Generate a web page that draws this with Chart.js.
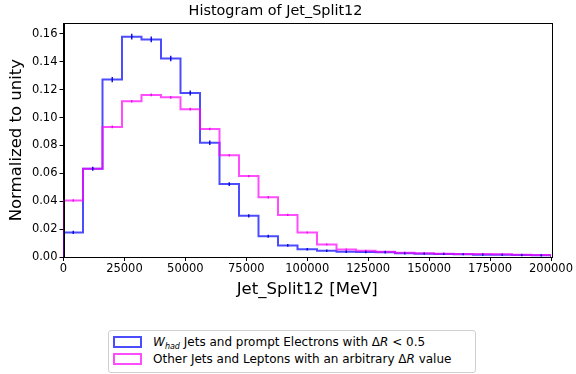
<!DOCTYPE html>
<html>
<head>
<meta charset="utf-8">
<script src="https://cdn.jsdelivr.net/npm/chart.js@4/dist/chart.umd.min.js"></script>
<style>
  html, body { margin: 0; padding: 0; background: #fff; }
  #wrap { position: relative; width: 576px; height: 374px; }
  #legend {
    position: absolute; left: 108px; top: 330px; width: 366px; height: 41px;
    border: 1px solid #d0d0d0; border-radius: 3px; background: #fff;
    font-family: "DejaVu Sans", sans-serif; font-size: 12px; color: #000;
  }
  .row { position: absolute; left: 4px; height: 16px; line-height: 16px; white-space: nowrap; }
  .patch { display: inline-block; width: 25px; height: 8px; vertical-align: middle; margin-right: 11px; margin-top: -2px; }
</style>
</head>
<body>
<div id="wrap">
  <canvas id="histChart" width="576" height="374"></canvas>
  <div id="legend">
    <div class="row" style="top:3px"><span class="patch" style="border:2px solid rgba(0,0,255,0.7)"></span><i>W</i><sub style="font-size:8px"><i>had</i></sub> Jets and prompt Electrons with Δ<i>R</i> &lt; 0.5</div>
    <div class="row" style="top:20px"><span class="patch" style="border:2px solid rgba(255,0,255,0.7)"></span>Other Jets and Leptons with an arbitrary Δ<i>R</i> value</div>
  </div>
</div>
<script>
// bin edges of the histogram (MeV)
const binEdges = [0, 8000, 16000, 24000, 32000, 40000, 48000, 56000, 64000, 72000,
  80000, 88000, 96000, 104000, 112000, 120000, 128000, 136000, 144000, 152000,
  160000, 168000, 176000, 184000, 192000, 200000];

// W_had jets + prompt electrons, dR < 0.5
const whadValues = [0.0176, 0.0633, 0.1272, 0.1580, 0.1560, 0.1424, 0.1176, 0.0819, 0.0523, 0.0295,
  0.0148, 0.0083, 0.0055, 0.0045, 0.0038, 0.0035, 0.0034, 0.0026, 0.0024, 0.0022,
  0.0020, 0.0017, 0.0016, 0.0014, 0.0012];
const whadErrors = [0.0006, 0.0009, 0.0013, 0.0015, 0.0015, 0.0014, 0.0013, 0.0011, 0.0008, 0.0006,
  0.0005, 0.0004, 0.0003, 0.0003, 0.0003, 0.0003, 0.0003, 0.0002, 0.0002, 0.0002,
  0.0002, 0.0002, 0.0002, 0.0002, 0.0002];

// other jets and leptons, arbitrary dR
const otherValues = [0.0405, 0.0633, 0.0933, 0.1117, 0.1162, 0.1145, 0.1060, 0.0918, 0.0729, 0.0580,
  0.0429, 0.0302, 0.0176, 0.0090, 0.0054, 0.0045, 0.0038, 0.0031, 0.0026, 0.0024,
  0.0021, 0.0021, 0.0019, 0.0017, 0.0014];
const otherErrors = [0.0003, 0.0003, 0.0004, 0.0004, 0.0004, 0.0004, 0.0004, 0.0004, 0.0003, 0.0003,
  0.0003, 0.0002, 0.0002, 0.0001, 0.0001, 0.0001, 0.0001, 0.0001, 0.0001, 0.0001,
  0.0001, 0.0001, 0.0001, 0.0001, 0.0001];

const yTicks = [0, 0.02, 0.04, 0.06, 0.08, 0.10, 0.12, 0.14, 0.16];
const xTicks = [0, 25000, 50000, 75000, 100000, 125000, 150000, 175000, 200000];

const FONT = '"DejaVu Sans", sans-serif';

// turn bin contents into step outline points (start and end at zero)
function stepPoints(values) {
  const pts = [{ x: binEdges[0], y: 0 }];
  values.forEach((v, i) => pts.push({ x: binEdges[i], y: v }));
  pts.push({ x: binEdges[binEdges.length - 1], y: values[values.length - 1] });
  pts.push({ x: binEdges[binEdges.length - 1], y: 0 });
  return pts;
}

// small vertical error bars at bin centres + full frame around the axes
const histExtras = {
  id: 'histExtras',
  afterDatasetsDraw(chart) {
    const { ctx, scales: { x, y } } = chart;
    const draw = (values, errors, color) => {
      ctx.save();
      ctx.strokeStyle = color;
      ctx.lineWidth = 1.5;
      values.forEach((v, i) => {
        const cx = x.getPixelForValue((binEdges[i] + binEdges[i + 1]) / 2);
        ctx.beginPath();
        ctx.moveTo(cx, y.getPixelForValue(v - errors[i]) + 0.8);
        ctx.lineTo(cx, y.getPixelForValue(v + errors[i]) - 0.8);
        ctx.stroke();
      });
      ctx.restore();
    };
    draw(otherValues, otherErrors, 'rgba(230,0,230,0.8)');
    draw(whadValues, whadErrors, 'rgba(0,0,220,0.9)');
    const a = chart.chartArea;
    ctx.save();
    ctx.strokeStyle = '#000';
    ctx.lineWidth = 1;
    ctx.strokeRect(Math.round(a.left) + 0.5, Math.round(a.top) + 0.5,
      Math.round(a.right - a.left), Math.round(a.bottom - a.top));
    ctx.restore();
  }
};

new Chart(document.getElementById('histChart').getContext('2d'), {
  type: 'line',
  data: {
    datasets: [
      {
        label: 'Other Jets and Leptons with an arbitrary ΔR value',
        data: stepPoints(otherValues),
        borderColor: 'rgba(255,0,255,0.7)',
        borderWidth: 2,
        stepped: 'before',
        pointRadius: 0,
        fill: false
      },
      {
        label: 'W_had Jets and prompt Electrons with ΔR < 0.5',
        data: stepPoints(whadValues),
        borderColor: 'rgba(0,0,255,0.7)',
        borderWidth: 2,
        stepped: 'before',
        pointRadius: 0,
        fill: false
      }
    ]
  },
  options: {
    responsive: false,
    animation: false,
    layout: { padding: { left: 0, right: 25, top: 0, bottom: 74 } },
    plugins: {
      legend: { display: false },
      tooltip: { enabled: false },
      title: {
        display: true,
        text: 'Histogram of Jet_Split12',
        color: '#000',
        font: { family: FONT, size: 14.4, weight: 'normal' },
        padding: { top: 3, bottom: 3 }
      }
    },
    scales: {
      x: {
        type: 'linear',
        min: 0,
        max: 200000,
        afterBuildTicks: s => { s.ticks = xTicks.map(v => ({ value: v })); },
        afterFit: s => { s.height = 43; },
        grid: { drawOnChartArea: false, drawTicks: true, tickLength: 4, color: '#000' },
        border: { color: '#000' },
        ticks: {
          color: '#000',
          padding: 1,
          maxRotation: 0,
          font: { family: FONT, size: 11.5 },
          callback: v => String(v)
        },
        title: {
          display: true,
          text: 'Jet_Split12 [MeV]',
          color: '#000',
          font: { family: FONT, size: 16.5 },
          padding: { top: 0, bottom: 0 }
        }
      },
      y: {
        min: 0,
        max: 0.1676,
        afterBuildTicks: s => { s.ticks = yTicks.map(v => ({ value: v })); },
        afterFit: s => { s.width = 63.5; },
        grid: { drawOnChartArea: false, drawTicks: true, tickLength: 4, color: '#000' },
        border: { color: '#000' },
        ticks: {
          color: '#000',
          padding: 2,
          font: { family: FONT, size: 11.5 },
          callback: v => v.toFixed(2)
        },
        title: {
          display: true,
          text: 'Normalized to unity',
          color: '#000',
          font: { family: FONT, size: 16.5 },
          padding: { top: 7, bottom: 2 }
        }
      }
    }
  },
  plugins: [histExtras]
});
</script>
</body>
</html>
